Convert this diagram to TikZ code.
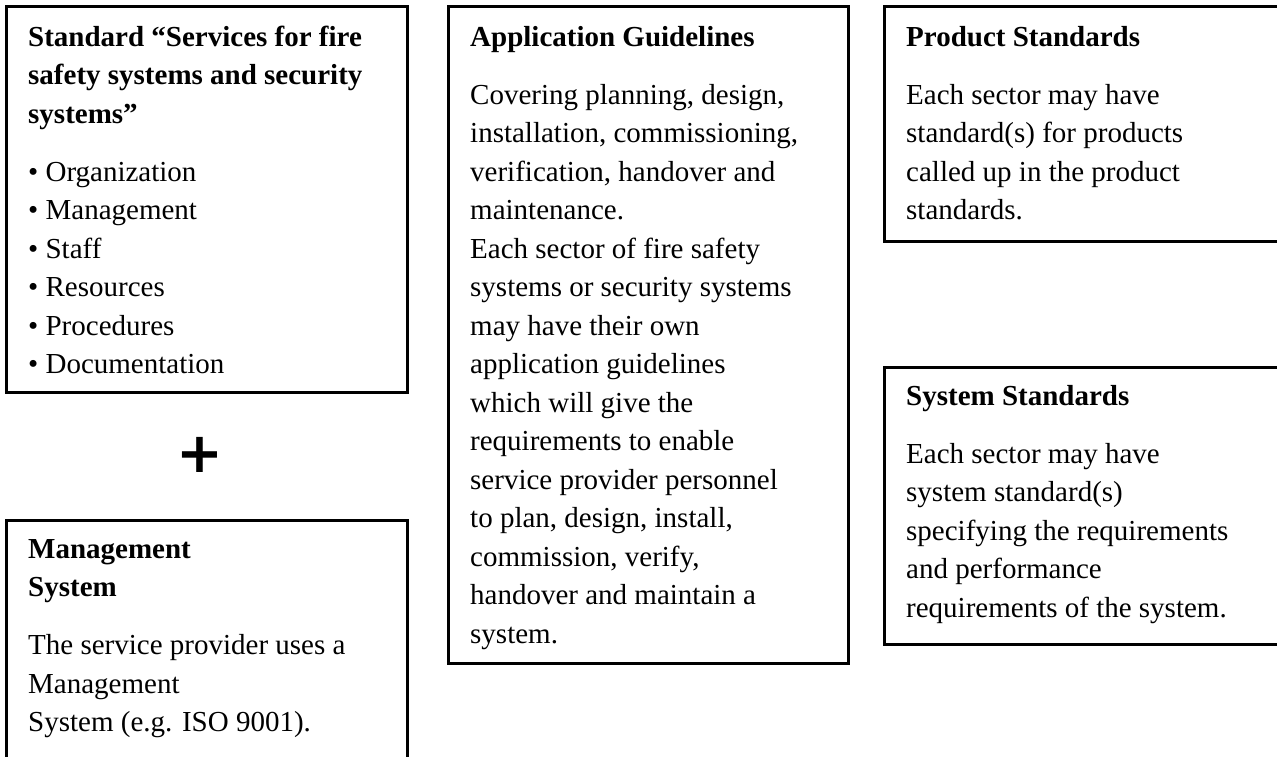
\documentclass[tikz,border=0pt]{standalone}
\usepackage{fontspec}
\setmainfont{Liberation Serif}
\newfontfamily\plusfont{DejaVu Sans}
\usetikzlibrary{positioning}

\begin{document}
\begin{tikzpicture}[x=1pt,y=-1pt,
  box/.style={draw,line width=3pt,anchor=north west,inner sep=0pt},
  txt/.style={align=left,inner sep=0pt,font=\fontsize{29}{38.5}\selectfont},
  node distance=14pt and 23pt]
  \useasboundingbox (0,0) rectangle (1277,756);

  \node[box,minimum width=401pt,minimum height=386pt] (std)  at (5,5)     {};
  \node[box,minimum width=401pt,minimum height=300pt] (mgmt) at (5,519)   {};
  \node[box,minimum width=400pt,minimum height=657pt] (appl) at (447,5)   {};
  \node[box,minimum width=420pt,minimum height=235pt] (prod) at (883,5)   {};
  \node[box,minimum width=420pt,minimum height=277pt] (sys)  at (883,366) {};

  \node[inner sep=0pt,font=\plusfont\bfseries\fontsize{56}{56}\selectfont] (plus) at (200,455) {+};

  \node[txt] (stdtext) [below right=of std.north west]
  {\strut\textbf{Standard “Services for fire}\\
   \textbf{safety systems and security}\\
   \textbf{systems”}\\[19.5pt]
   \textbullet\ Organization\\
   \textbullet\ Management\\
   \textbullet\ Staff\\
   \textbullet\ Resources\\
   \textbullet\ Procedures\\
   \textbullet\ Documentation};

  \node[txt] (mgmttext) [below right=12pt and 23pt of mgmt.north west]
  {\strut\textbf{Management}\\
   \textbf{System}\\[19.5pt]
   The service provider uses a\\
   Management\\
   System (e.g. ISO 9001).};

  \node[txt] (appltext) [below right=of appl.north west]
  {\strut\textbf{Application Guidelines}\\[19.5pt]
   Covering planning, design,\\
   installation, commissioning,\\
   verification, handover and\\
   maintenance.\\
   Each sector of fire safety\\
   systems or security systems\\
   may have their own\\
   application guidelines\\
   which will give the\\
   requirements to enable\\
   service provider personnel\\
   to plan, design, install,\\
   commission, verify,\\
   handover and maintain a\\
   system.};

  \node[txt] (prodtext) [below right=of prod.north west]
  {\strut\textbf{Product Standards}\\[19.5pt]
   Each sector may have\\
   standard(s) for products\\
   called up in the product\\
   standards.};

  \node[txt] (systext) [below right=12pt and 23pt of sys.north west]
  {\strut\textbf{System Standards}\\[19.5pt]
   Each sector may have\\
   system standard(s)\\
   specifying the requirements\\
   and performance\\
   requirements of the system.};
\end{tikzpicture}
\end{document}
